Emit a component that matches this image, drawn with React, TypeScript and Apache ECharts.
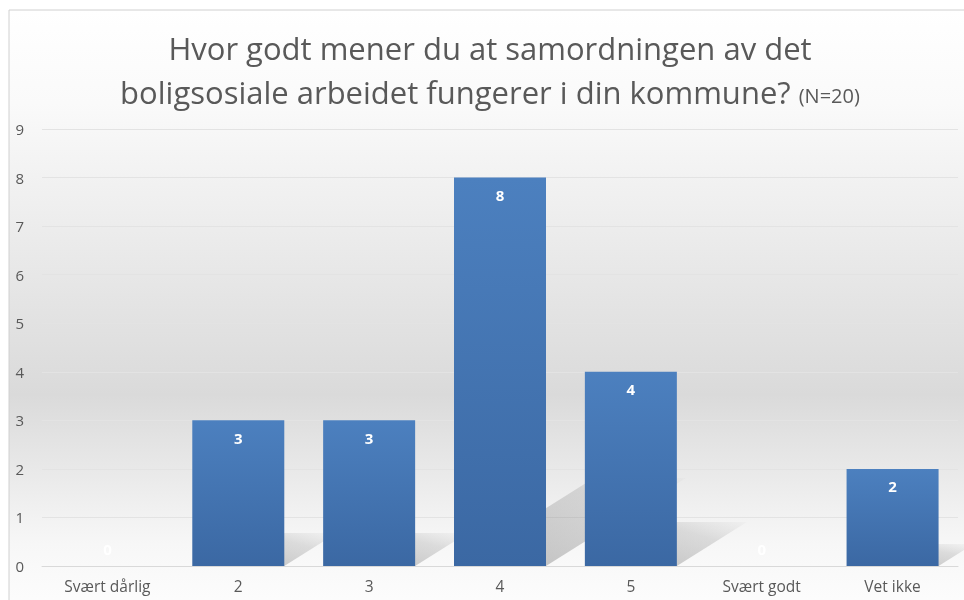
import React, { useEffect, useRef } from "react";
import * as echarts from "echarts";

const categories = ["Svært dårlig", "2", "3", "4", "5", "Svært godt", "Vet ikke"];
const values = [0, 3, 3, 8, 4, 0, 2];
const yTicks = [0, 1, 2, 3, 4, 5, 6, 7, 8, 9];
const titleLine1 = "Hvor godt mener du at samordningen av det";
const titleLine2 = "boligsosiale arbeidet fungerer i din kommune?";
const titleNote = "(N=20)";

const FONT = "'Open Sans', 'Noto Sans', sans-serif";
const BAR_W = 92;

export default function App() {
  const ref = useRef<HTMLDivElement>(null);
  useEffect(() => {
    if (!ref.current) return;
    const chart = echarts.init(ref.current, undefined, { renderer: "svg" });
    const option: any = {
      animation: false,
      graphic: [
        {
          type: "rect",
          z: -10,
          silent: true,
          shape: { x: 9, y: 10, width: 980, height: 620 },
          style: {
            fill: new echarts.graphic.LinearGradient(0, 0, 0, 1, [
              { offset: 0, color: "#ffffff" },
              { offset: 0.15, color: "#fafafa" },
              { offset: 0.62, color: "#dadada" },
              { offset: 0.86, color: "#f7f7f7" },
              { offset: 1, color: "#ffffff" },
            ]),
            stroke: "#d0d0d0",
            lineWidth: 1,
          },
        },
        {
          type: "text",
          x: 490,
          y: 48,
          style: {
            text: titleLine1,
            font: `31px ${FONT}`,
            fill: "#595959",
            align: "center",
            verticalAlign: "middle",
          },
        },
        {
          type: "text",
          x: 490,
          y: 92,
          style: {
            text: titleLine2 + " {s|" + titleNote + "}",
            font: `31px ${FONT}`,
            fill: "#595959",
            align: "center",
            verticalAlign: "middle",
            rich: {
              s: { fontSize: 20, fontFamily: FONT, fill: "#595959", color: "#595959", padding: [6, 0, 0, 0] },
            },
          },
        },
      ],
      grid: { left: 42, right: 6, top: 129, bottom: 34, containLabel: false },
      xAxis: {
        type: "category",
        data: categories,
        axisLine: { show: true, lineStyle: { color: "#d9d9d9" } },
        axisTick: { show: false },
        axisLabel: { color: "#595959", fontSize: 15.5, fontFamily: FONT, margin: 12, interval: 0 },
      },
      yAxis: {
        type: "value",
        min: yTicks[0],
        max: yTicks[yTicks.length - 1],
        interval: 1,
        axisLine: { show: false },
        axisTick: { show: false },
        axisLabel: { color: "#595959", fontSize: 15, fontFamily: FONT, margin: 18 },
        splitLine: { lineStyle: { color: "#e3e3e3" } },
      },
      series: [
        {
          type: "custom",
          z: 1,
          silent: true,
          data: values.map((v, i) => [i, v]),
          renderItem: (params: any, api: any) => {
            const idx = api.value(0);
            const v = api.value(1);
            if (!v) return null;
            const base = api.coord([idx, 0]);
            const xL = base[0] - BAR_W / 2;
            const xR = base[0] + BAR_W / 2;
            const y0 = base[1];
            const dx = 17.5 * v;
            const dy = 11 * v;
            return {
              type: "polygon",
              shape: {
                points: [
                  [xL, y0],
                  [xR, y0],
                  [xR + dx, y0 - dy],
                  [xL + dx, y0 - dy],
                ],
              },
              style: {
                fill: new echarts.graphic.LinearGradient(0, 1, 1, 0, [
                  { offset: 0, color: "rgba(90,90,90,0.40)" },
                  { offset: 0.7, color: "rgba(120,120,120,0.22)" },
                  { offset: 1, color: "rgba(150,150,150,0.04)" },
                ]),
              },
            };
          },
        },
        {
          type: "bar",
          z: 2,
          data: values.map((v) =>
            v === 0 ? { value: v, label: { position: "top", distance: 10 } } : v
          ),
          barWidth: BAR_W,
          itemStyle: {
            color: new echarts.graphic.LinearGradient(0, 0, 0, 1, [
              { offset: 0, color: "#4c80bf" },
              { offset: 1, color: "#3b68a3" },
            ]),
          },
          label: {
            show: true,
            position: "insideTop",
            distance: 10,
            color: "#ffffff",
            fontWeight: "bold",
            fontSize: 15,
            fontFamily: FONT,
          },
        },
      ],
    };
    chart.setOption(option);
    return () => chart.dispose();
  }, []);
  return (
    <div
      ref={ref}
      style={{ position: "fixed", left: 0, top: 0, width: 964, height: 600 }}
    />
  );
}
